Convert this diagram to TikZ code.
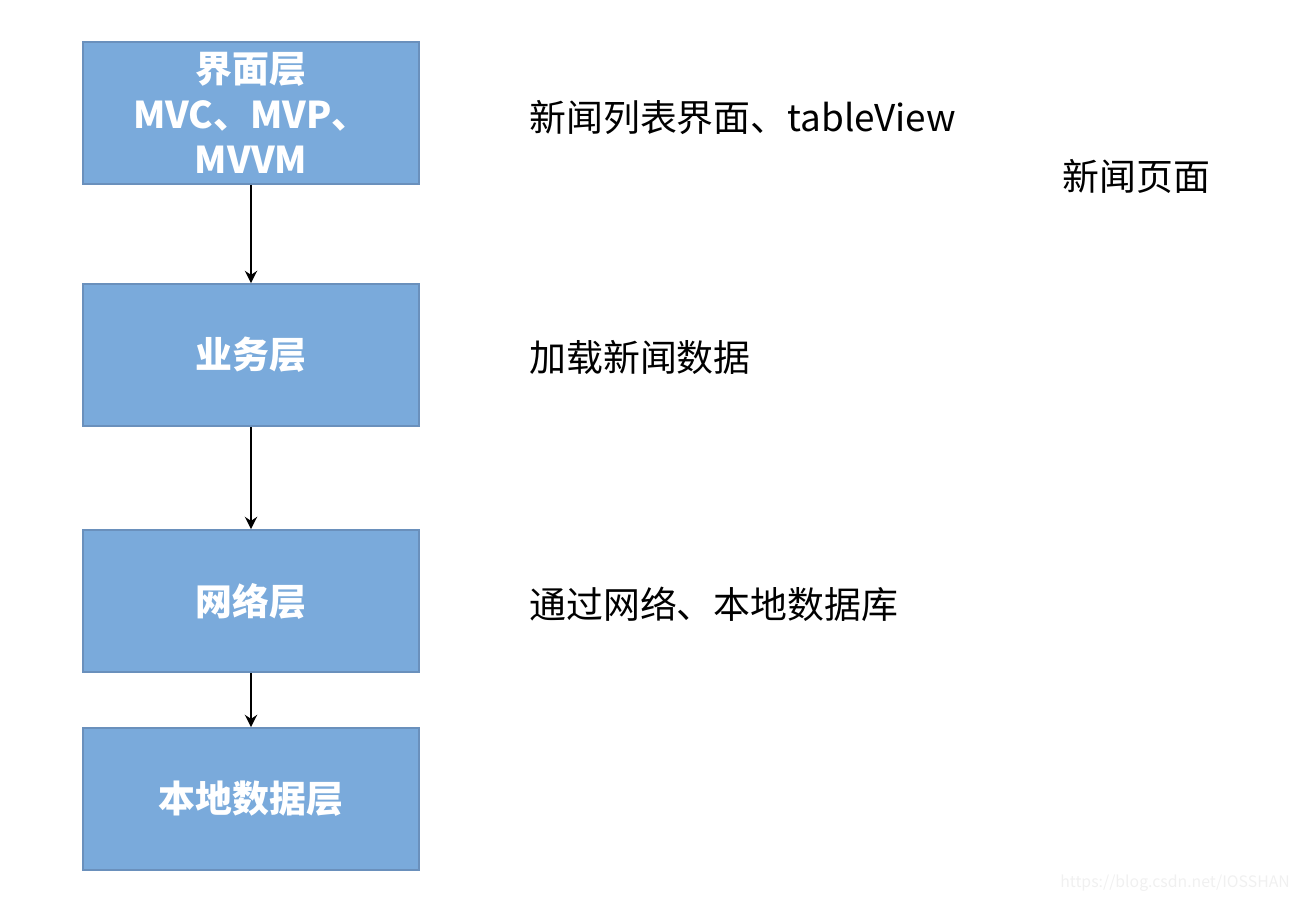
\documentclass[tikz,border=0pt]{standalone}
\usepackage{fontspec}
\usetikzlibrary{arrows.meta}
\setmainfont{Noto Sans CJK SC}
\definecolor{layerfill}{HTML}{7AAADB}
\definecolor{layerdraw}{HTML}{6A90BC}
\definecolor{markgray}{HTML}{F0F0F0}
\begin{document}
\begin{tikzpicture}[x=0.02cm, y=-0.02cm, font=\fontsize{21pt}{26pt}\selectfont]
    % Styles
    \tikzstyle{layer box}=[rectangle, draw=layerdraw, line width=1pt, fill=layerfill,
        text=white, font=\fontsize{21pt}{26pt}\selectfont\bfseries,
        minimum width=6.72cm, minimum height=2.84cm, inner sep=0pt, align=center]
    \tikzstyle{note}=[anchor=west, inner sep=0pt]
    \tikzstyle{flow}=[line width=1.2pt, -{Stealth[length=7pt, width=7pt]}]

    % Frame
    \useasboundingbox (0,0) rectangle (1304,902);

    % --- Layers ---
    \node[layer box] (ui) at (251,113) {界面层\\MVC、MVP、\\MVVM};
    \node[layer box] (biz) at (251,355) {业务层};
    \node[layer box] (net) at (251,601) {网络层};
    \node[layer box] (local) at (251,799) {本地数据层};

    % --- Arrows between layers ---
    \draw[flow] (ui) -- (biz);
    \draw[flow] (biz) -- (net);
    \draw[flow] (net) -- (local);

    % --- Notes on the right ---
    \node[note] (ui_note) at (529,118) {新闻列表界面、tableView};
    \node[note] (page_note) at (1062,176) {新闻页面};
    \node[note] (biz_note) at (529,357) {加载新闻数据};
    \node[note] (net_note) at (529,604) {通过网络、本地数据库};

    % Watermark
    \node[anchor=east, text=markgray, font=\fontsize{9pt}{11pt}\selectfont] (mark) at (1296,883) {https://blog.csdn.net/IOSSHAN};
\end{tikzpicture}
\end{document}
